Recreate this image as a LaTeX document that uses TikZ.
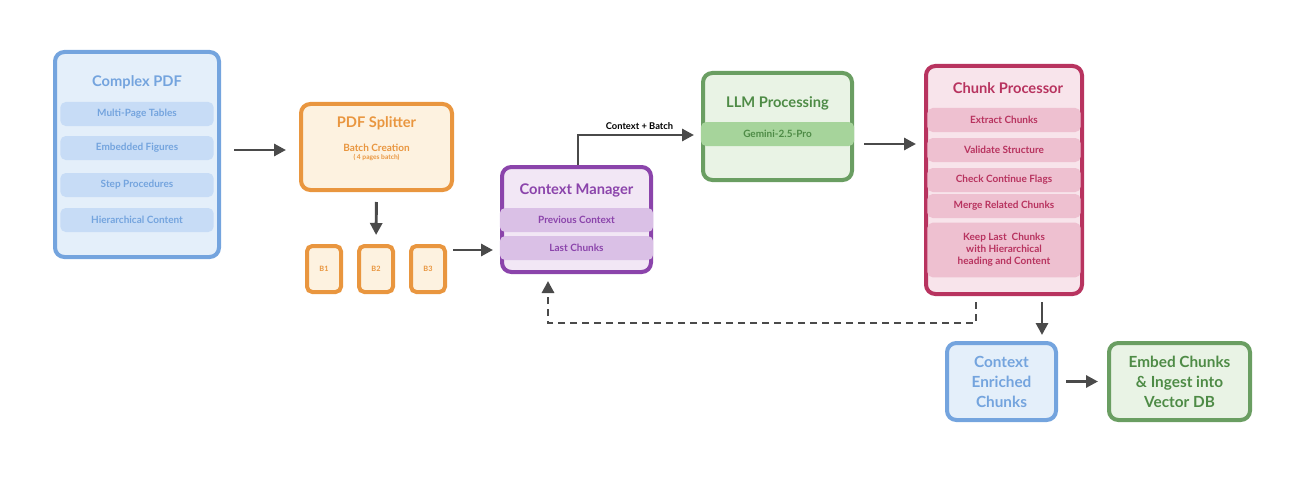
\documentclass[tikz,border=0pt]{standalone}
\usepackage{fontspec}
\setmainfont{Lato}
\usetikzlibrary{arrows.meta,positioning}

\definecolor{blueE}{HTML}{74A4DE}
\definecolor{blueF}{HTML}{E4EFFA}
\definecolor{blueP}{HTML}{C7DCF6}
\definecolor{oraE}{HTML}{E9963F}
\definecolor{oraF}{HTML}{FDF2E0}
\definecolor{purE}{HTML}{8B44AB}
\definecolor{purF}{HTML}{F2E7F5}
\definecolor{purP}{HTML}{DAC0E6}
\definecolor{grnE}{HTML}{6A9E62}
\definecolor{grnF}{HTML}{E9F3E5}
\definecolor{grnP}{HTML}{A6D49B}
\definecolor{grnT}{HTML}{4E8B46}
\definecolor{redE}{HTML}{B8335F}
\definecolor{redF}{HTML}{F8E4EB}
\definecolor{redP}{HTML}{EEC0D0}
\definecolor{arr}{HTML}{4A4A4A}

\tikzset{
  box/.style={draw=#1E, fill=#1F, line width=3pt, rounded corners=7pt, inner sep=0pt},
  pill/.style={fill=#1, rounded corners=4pt, minimum width=115, minimum height=18, inner sep=1pt, font=\fontsize{7.5}{9}\selectfont\bfseries},
  ttl/.style={font=\fontsize{11}{13}\selectfont\bfseries},
  big/.style={font=\fontsize{11.5}{15}\selectfont\bfseries, align=center},
  flow/.style={draw=arr, line width=2.2pt, -{Triangle[length=9pt,width=9pt]}},
}

\begin{document}
\begin{tikzpicture}[x=0.75pt,y=0.75pt,yscale=-1,xscale=1]
	\useasboundingbox (0,0) rectangle (1314,492);

	% boxes
	\node[box=blue, minimum width=164*0.75pt, minimum height=205*0.75pt] (pdf) at (137,154.5) {};
	\node[box=ora, minimum width=151*0.75pt, minimum height=86*0.75pt] (split) at (376.5,147) {};
	\node[box=ora, minimum width=34*0.75pt, minimum height=46*0.75pt, rounded corners=4pt] (b1) at (324,269) {};
	\node[box=ora, minimum width=34*0.75pt, minimum height=46*0.75pt, rounded corners=4pt] (b2) at (376,269) {};
	\node[box=ora, minimum width=34*0.75pt, minimum height=46*0.75pt, rounded corners=4pt] (b3) at (428,269) {};
	\node[box=pur, minimum width=149*0.75pt, minimum height=105*0.75pt] (ctx) at (576.5,219.5) {};
	\node[box=grn, minimum width=149*0.75pt, minimum height=107*0.75pt] (llm) at (777.5,126.5) {};
	\node[box=red, minimum width=156*0.75pt, minimum height=228*0.75pt] (chunk) at (1004,180) {};
	\node[box=blue, minimum width=109*0.75pt, minimum height=77*0.75pt] (enr) at (1001.5,381.5) {};
	\node[box=grn, minimum width=141*0.75pt, minimum height=77*0.75pt] (emb) at (1179.5,381.5) {};

	% texts
	\node[ttl, text=blueE] at (137,82) {Complex PDF};
	\node[pill=blueP, text=blueE] at (137,114) {Multi-Page Tables};
	\node[pill=blueP, text=blueE] at (137,148) {Embedded Figures};
	\node[pill=blueP, text=blueE] at (137,185) {Step Procedures};
	\node[pill=blueP, text=blueE] at (137,220) {Hierarchical Content};

	\node[ttl, text=oraE] at (376.5,123) {PDF Splitter};
	\node[text=oraE, font=\fontsize{7.5}{9}\selectfont\bfseries] at (376.5,148) {Batch Creation};
	\node[text=oraE, font=\fontsize{5}{6}\selectfont\bfseries] at (376.5,157) {( 4 pages batch)};
	\node[text=oraE, font=\fontsize{5.5}{6}\selectfont\bfseries] at (b1) {B1};
	\node[text=oraE, font=\fontsize{5.5}{6}\selectfont\bfseries] at (b2) {B2};
	\node[text=oraE, font=\fontsize{5.5}{6}\selectfont\bfseries] at (b3) {B3};

	\node[ttl, text=purE] at (576.5,190) {Context Manager};
	\node[pill=purP, text=purE] at (576.5,220) {Previous Context};
	\node[pill=purP, text=purE] at (576.5,248) {Last Chunks};

	\node[ttl, text=grnT] at (777.5,103) {LLM Processing};
	\node[pill=grnP, text=grnT] at (777.5,134) {Gemini-2.5-Pro};

	\node[ttl, text=redE] at (1008,88) {Chunk Processor};
	\node[pill=redP, text=redE] at (1004,120) {Extract Chunks};
	\node[pill=redP, text=redE] at (1004,150) {Validate Structure};
	\node[pill=redP, text=redE] at (1004,180) {Check Continue Flags};
	\node[pill=redP, text=redE] at (1004,206) {Merge Related Chunks};
	\node[pill=redP, text=redE, minimum height=41, align=center, font=\fontsize{7.5}{9}\selectfont\bfseries] at (1004,250) {Keep Last\ \ Chunks\\with Hierarchical\\heading and Content};

	\node[big, text=blueE] at (enr) {Context\\Enriched\\Chunks};
	\node[big, text=grnT] at (emb) {Embed Chunks\\\& Ingest into\\Vector DB};

	% connectors
	\draw[flow, shorten <=13*0.75pt, shorten >=13*0.75pt] (pdf.east |- 0,150) -- (split.west |- 0,150);
	\draw[flow, shorten <=10*0.75pt, shorten >=9*0.75pt] (split.south) -- (b2.north);
	\draw[flow, shorten <=6*0.75pt, shorten >=7*0.75pt] (b3.east |- 0,250) -- (ctx.west |- 0,250);
	\coordinate (up) at (578,135);
	\draw[flow, shorten >=7*0.75pt] (ctx.north -| up) -- (up) -- node[above, text=black, font=\fontsize{7}{8}\selectfont\bfseries] {Context + Batch} (llm.west |- up);
	\draw[flow, shorten <=10*0.75pt, shorten >=8*0.75pt] (llm.east |- 0,144) -- (chunk.west |- 0,144);
	\draw[flow, shorten <=6*0.75pt, shorten >=6*0.75pt] (chunk.south -| 1042,0) -- (enr.north -| 1042,0);
	\coordinate (fb1) at (976,323);
	\coordinate (fb2) at (548,323);
	\draw[flow, dash pattern=on 5pt off 4pt, shorten <=6*0.75pt, shorten >=7*0.75pt] (chunk.south -| fb1) -- (fb1) -- (fb2) -- (ctx.south -| fb2);
	\draw[flow, shorten <=8*0.75pt, shorten >=9*0.75pt] (enr.east) -- (emb.west);
\end{tikzpicture}
\end{document}
